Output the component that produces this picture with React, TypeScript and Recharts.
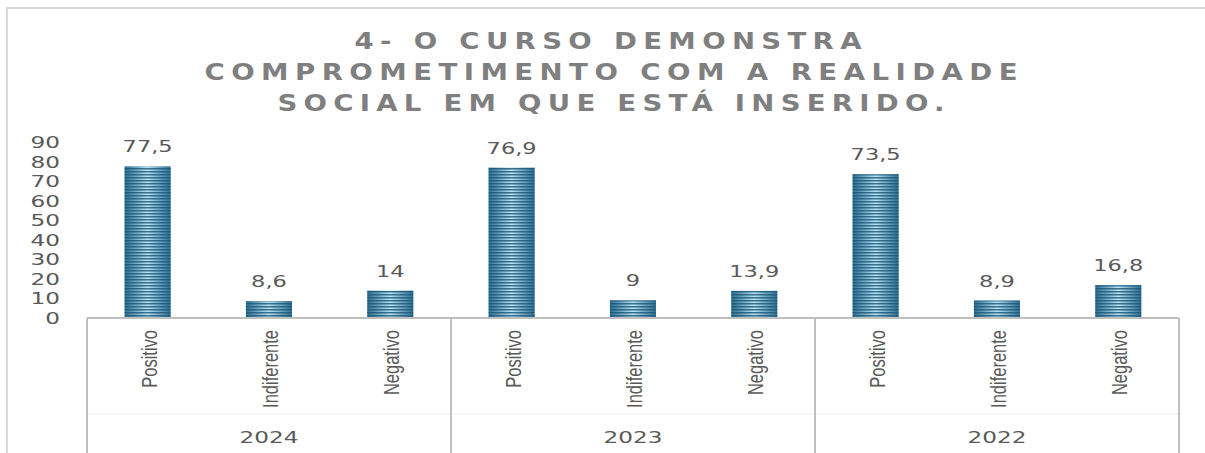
import React from "react";
import { BarChart, Bar, XAxis, YAxis, LabelList } from "recharts";

const years = ["2024", "2023", "2022"];
const answers = ["Positivo", "Indiferente", "Negativo"];
const values2024 = [77.5, 8.6, 14];
const values2023 = [76.9, 9, 13.9];
const values2022 = [73.5, 8.9, 16.8];
const yTicks = [0, 10, 20, 30, 40, 50, 60, 70, 80, 90];
const titleLines = ["4- O CURSO DEMONSTRA", "COMPROMETIMENTO COM A REALIDADE", "SOCIAL EM QUE ESTÁ INSERIDO."];

const byYear = [values2024, values2023, values2022];
const data = years.flatMap((year, yi) =>
  answers.map((label, ai) => ({ key: `${year}-${label}`, label, year, value: byYear[yi][ai] }))
);

const W = 1205;
const H = 453;
const PLOT_LEFT = 87;
const PLOT_RIGHT = 26;
const BAND = (W - PLOT_LEFT - PLOT_RIGHT) / data.length;
const TEXT = "#595959";
const GRID = "#bfbfbf";
const TITLE_STRETCH = 1.2;

// stretched digits, the source looks horizontally widened
const WideText = ({ x, y, anchor, size, children }: any) => (
  <text
    transform={`translate(${x} ${y}) scale(1.45 1)`}
    textAnchor={anchor}
    fontFamily="DejaVu Sans, sans-serif"
    fontSize={size}
    fill={TEXT}
  >
    {children}
  </text>
);

const YTick = ({ x, y, payload }: any) => (
  <WideText x={x} y={y + 6} anchor="end" size={16}>{payload.value}</WideText>
);

const CatTick = ({ x, y, payload, index }: any) => {
  const half = payload?.offset || BAND / 2;
  return (
    <g>
      {index % 3 === 0 && <line x1={x - half} x2={x - half} y1={y} y2={H} stroke={GRID} strokeWidth={2} />}
      {index === data.length - 1 && <line x1={x + half} x2={x + half} y1={y} y2={H} stroke={GRID} strokeWidth={2} />}
      {/* condensed, rotated label */}
      <text
        transform={`translate(${x + 1} ${y + 12}) rotate(-90) scale(0.75 1)`}
        textAnchor="end"
        dominantBaseline="central"
        fontFamily="'Liberation Sans', Arial, sans-serif"
        fontSize={22}
        fill={TEXT}
      >
        {payload.value}
      </text>
    </g>
  );
};

const YearTick = ({ x, y, payload, index }: any) => {
  if (index % 3 !== 1) return null;
  return <WideText x={x} y={y + 29} anchor="middle" size={16}>{payload.value}</WideText>;
};

const ValueLabel = ({ x, y, width, value }: any) => (
  <WideText x={x + width / 2} y={y - 14} anchor="middle" size={15.5}>
    {String(value).replace(".", ",")}
  </WideText>
);

const StripedBar = ({ x, y, width, height }: any) => (
  <g>
    <rect x={x} y={y} width={width} height={height} fill="url(#barGrad)" />
    <rect x={x} y={y} width={width} height={height} fill="url(#stripes)" />
  </g>
);

export default function App() {
  return (
    <div style={{ position: "relative", width: W, height: H, background: "#fff", overflow: "hidden" }}>
      <style>{`body{margin:0}`}</style>
      <svg width={0} height={0} style={{ position: "absolute" }}>
        <defs>
          <linearGradient id="barGrad" x1="0" y1="0" x2="1" y2="0">
            <stop offset="0%" stopColor="#2c6e93" />
            <stop offset="50%" stopColor="#b8e4f4" />
            <stop offset="100%" stopColor="#2c6e93" />
          </linearGradient>
          <pattern id="stripes" patternUnits="userSpaceOnUse" width={10} height={3}>
            <rect x={0} y={0} width={10} height={1.5} fill="#1a5576" fillOpacity={0.8} />
          </pattern>
        </defs>
      </svg>

      {/* frame */}
      <div style={{ position: "absolute", left: 6, top: 7, right: 0, bottom: 0, borderTop: "2px solid #d9d9d9", borderLeft: "2px solid #d9d9d9" }} />

      <BarChart width={W} height={H} data={data} margin={{ top: 142, right: PLOT_RIGHT, bottom: 0, left: 0 }} barCategoryGap="31%">
        <YAxis
          width={PLOT_LEFT}
          domain={[0, 90]}
          ticks={yTicks}
          interval={0}
          axisLine={false}
          tickLine={false}
          tickSize={0}
          tickMargin={27}
          tick={<YTick />}
        />
        <XAxis
          dataKey="key"
          height={96}
          interval={0}
          tickLine={false}
          tickSize={0}
          tickMargin={0}
          axisLine={{ stroke: GRID, strokeWidth: 2 }}
          tick={(p: any) => <CatTick {...p} payload={{ ...p.payload, value: String(p.payload.value).split("-")[1] }} />}
        />
        <XAxis
          xAxisId="year"
          dataKey="year"
          height={39}
          interval={0}
          allowDuplicatedCategory
          tickLine={false}
          tickSize={0}
          tickMargin={0}
          axisLine={{ stroke: "#ededed", strokeWidth: 1 }}
          tick={<YearTick />}
        />
        <Bar dataKey="value" shape={<StripedBar />} isAnimationActive={false}>
          <LabelList dataKey="value" content={<ValueLabel />} />
        </Bar>
      </BarChart>

      <svg width={W} height={130} style={{ position: "absolute", left: 0, top: 0, pointerEvents: "none" }}>
        {titleLines.map((line, i) => (
          <text
            key={i}
            transform={`translate(${[608, 611, 611][i]} ${49 + i * 31}) scale(${TITLE_STRETCH} 1)`}
            textAnchor="middle"
            textLength={[507, 813, 667][i] / TITLE_STRETCH}
            lengthAdjust="spacing"
            fontFamily="DejaVu Sans, sans-serif"
            fontWeight="bold"
            fontSize={23}
            fill="#7f7f7f"
          >
            {line}
          </text>
        ))}
      </svg>
    </div>
  );
}
